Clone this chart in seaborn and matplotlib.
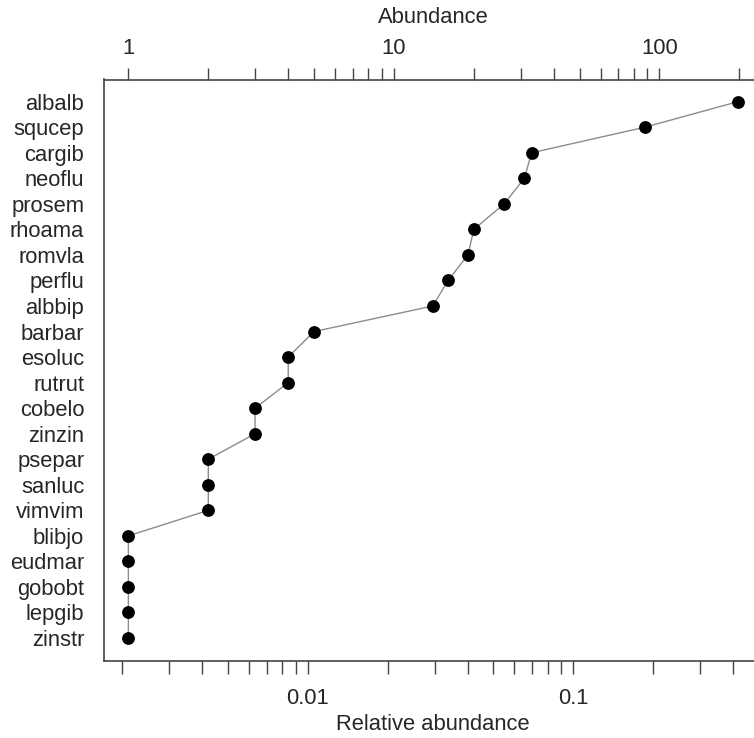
import numpy as np
import pandas as pd
import matplotlib
matplotlib.use('Agg')
import matplotlib.pyplot as plt
import matplotlib.ticker as mticker
import seaborn as sns

# species ranked by abundance (top to bottom)
species = ['albalb', 'squcep', 'cargib', 'neoflu', 'prosem', 'rhoama', 'romvla',
           'perflu', 'albbip', 'barbar', 'esoluc', 'rutrut', 'cobelo', 'zinzin',
           'psepar', 'sanluc', 'vimvim', 'blibjo', 'eudmar', 'gobobt', 'lepgib', 'zinstr']
abundance = [197, 88, 33, 31, 26, 20, 19, 16, 14, 5, 4, 4, 3, 3, 2, 2, 2, 1, 1, 1, 1, 1]

top_major = [1, 10, 100]
top_minor = [2, 3, 4, 5, 6, 7, 8, 9, 20, 30, 40, 50, 60, 70, 80, 90, 200]
bottom_major = [0.01, 0.1]
bottom_minor = [0.002, 0.003, 0.004, 0.005, 0.006, 0.007, 0.008, 0.009,
                0.02, 0.03, 0.04, 0.05, 0.06, 0.07, 0.08, 0.09, 0.2, 0.3, 0.4]

total = sum(abundance)
df = pd.DataFrame({'species': species, 'abundance': abundance, 'rank': np.arange(len(species))})

sns.set_style('white')
plt.rcParams['font.family'] = ['Liberation Sans', 'DejaVu Sans']
FS = 15.8
FRAME = '#444444'

W, H = 754, 738
fig = plt.figure(figsize=(W / 100, H / 100), dpi=100)
# axes box in pixels: left 104, top 79.5, bottom 661, right runs past the image edge
ax = fig.add_axes([104 / W, (H - 661) / H, 658 / W, (661 - 79.5) / H])

sns.lineplot(data=df, x='abundance', y='rank', sort=False, estimator=None,
             color='#8c8c8c', linewidth=1.0, ax=ax)
sns.scatterplot(data=df, x='abundance', y='rank', color='black', s=85,
                edgecolor='black', linewidth=0, ax=ax, zorder=3)

ax.set_xscale('log')
lo, hi = 0.0, np.log10(max(abundance))
pad = 0.04 * (hi - lo)
ax.set_xlim(10 ** (lo - pad), 10 ** (hi + pad))
ax.set_ylim(21.9, -0.87)

# top axis: abundance
ax.xaxis.set_ticks_position('top')
ax.xaxis.set_label_position('top')
ax.xaxis.set_major_locator(mticker.FixedLocator(top_major))
ax.xaxis.set_major_formatter(mticker.FixedFormatter([str(v) for v in top_major]))
ax.xaxis.set_minor_locator(mticker.FixedLocator(top_minor))
ax.xaxis.set_minor_formatter(mticker.NullFormatter())
ax.tick_params(axis='x', which='both', direction='out', length=12.5 * 0.72,
               width=1, color=FRAME, labelsize=FS, pad=6, top=True, bottom=False)
ax.set_xlabel('Abundance', fontsize=FS, labelpad=10.4)

# left axis: species
ax.set_yticks(df['rank'])
ax.set_yticklabels(species)
ax.tick_params(axis='y', direction='out', length=7.2, width=1, color=FRAME,
               labelsize=FS, pad=7)
ax.set_ylabel('')

for side in ['top', 'left', 'bottom', 'right']:
    ax.spines[side].set_color(FRAME)
    ax.spines[side].set_linewidth(1.2)

# bottom axis: relative abundance
sec = ax.secondary_xaxis('bottom', functions=(lambda a: a / total, lambda r: r * total))
sec.xaxis.set_major_locator(mticker.FixedLocator(bottom_major))
sec.xaxis.set_major_formatter(mticker.FixedFormatter([str(v) for v in bottom_major]))
sec.xaxis.set_minor_locator(mticker.FixedLocator(bottom_minor))
sec.xaxis.set_minor_formatter(mticker.NullFormatter())
sec.tick_params(axis='x', which='both', direction='out', length=12.5 * 0.72,
                width=1, color=FRAME, labelsize=FS, pad=10.4)
sec.spines['bottom'].set_visible(False)
sec.set_xlabel('Relative abundance', fontsize=FS, labelpad=3.7)

fig.savefig('out.png', dpi=100)
